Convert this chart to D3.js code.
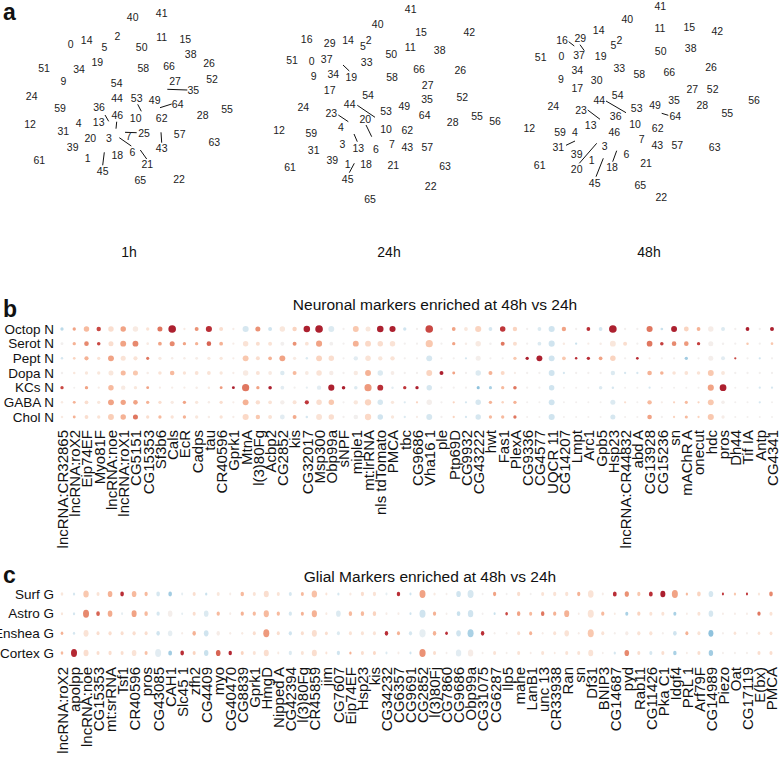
<!DOCTYPE html>
<html><head><meta charset="utf-8">
<script src="https://cdn.jsdelivr.net/npm/d3@7"></script>
<style>body{margin:0;background:#fff}svg{display:block}text{font-family:"Liberation Sans",Arial,sans-serif;fill:#111}</style>
</head><body><svg id="chart" width="780" height="762"></svg>
<script>
// ---------------- Panel a data (cluster label positions in layout units) ----------------
const aTitles = ["1h", "24h", "48h"];
const a1Labels = [["40",132.7,17.3],["41",161.7,13.3],["2",117.3,36.7],["11",161.7,37.3],["15",185.3,39],["0",70.7,44],["14",86.7,40.7],["5",104.3,47.7],["50",141.7,47.3],["38",190.7,54],["26",209,63.3],["51",44,68.3],["34",79,69],["19",97.3,62.7],["58",143.3,68.3],["66",169,66.7],["52",212,79],["9",63.3,81.7],["54",116.7,83.3],["27",175,81.7],["35",193.3,90.7],["24",31.7,96],["44",117,98.7],["53",136.7,98.7],["49",154.7,100],["64",177.7,104.3],["55",227,109.3],["59",60,108.7],["36",99,107.3],["28",202.7,115],["46",117.3,115],["10",135.7,118],["62",161.7,118.3],["12",30,124.3],["4",78.7,123.3],["13",98.7,122.7],["31",63.3,131.7],["7",128.7,136.7],["25",144,133.3],["57",179.7,134],["63",214.3,142],["20",90.3,138.3],["3",109,138],["39",72.7,147],["43",161.7,148.7],["6",132.3,152.7],["18",117.3,155.3],["1",87.7,158.7],["61",39.3,160.3],["21",147.3,164],["45",102.7,171.3],["65",140.3,180.7],["22",179,179]];
const a1Links = [[167.3,89.3,187.3,90],[137.7,104.3,141.3,111.3],[160,107.7,171.7,104],[105,115,108.7,121.3],[116.7,121.7,116,128.7],[125,132.3,136.7,132.7],[119.3,137.7,131.3,146],[161,132.3,161.7,142.7],[140.3,150,146.7,159],[104.3,152.3,102.7,165.3]];
const a2Labels = [["41",150.7,9.3],["40",117.7,24.3],["15",161,32],["42",209.3,32.3],["16",46.7,39],["29",69.7,43.3],["14",88,40.7],["5",103,46.7],["2",108.7,40],["11",150.3,47],["38",179.7,50.7],["50",131.3,54],["51",32,60],["0",51.7,61],["37",66.7,59.3],["33",106.7,62],["66",159,69],["26",200.3,70.7],["9",53.7,76],["34",73.3,74],["19",91.3,77.3],["58",132,77.3],["27",167.7,85],["17",69.7,90],["54",108,95.3],["52",202.3,97.3],["35",167,99.7],["24",43.3,107.3],["44",89.7,104.3],["53",126,111],["49",144.3,106.7],["64",164.7,115.7],["23",71.3,113.3],["20",105.3,119],["28",192.7,122],["55",217,116.7],["56",235,121],["12",19,130],["4",81,127.7],["10",126,129],["62",147.3,130.7],["59",51.3,133.3],["3",82.3,144],["13",98.3,148],["6",116,149],["7",132,144],["43",147.3,147.7],["57",167.3,147.7],["31",53.7,150.7],["39",72.3,160.7],["1",87.7,164],["18",106,164.3],["21",133.3,165],["63",185,166.7],["61",30,167.3],["45",87.7,179],["22",170.7,186],["65",110,199]];
const a2Links = [[83,65,89.3,71],[97.3,105.3,115,117.3],[78.3,115,88.3,121.7],[106,125,111.7,136.7],[94,134,97.3,141.7],[94.3,163.3,89.3,172.7]];
const a3Labels = [["41",140.3,6],["40",107.3,19.3],["14",78.7,30],["11",140,28.7],["15",169.3,27.7],["42",197.3,31.3],["16",42,40],["29",60.3,38.3],["5",93.3,45.3],["2",99.3,40],["50",140.7,51.3],["38",170.7,48.3],["51",20.7,57.7],["0",41.3,56.7],["37",59,55],["19",80.7,56.7],["33",99.3,68.7],["58",119.3,74],["66",149.3,72.3],["26",191,67],["34",57.3,70.7],["9",41,79.7],["30",76.7,80.3],["17",57.3,88],["54",97.7,95],["27",172.3,89.3],["52",192.7,89.3],["56",234,100.3],["35",154,100],["28",182.3,105],["24",33.3,106.7],["44",79.3,100.7],["53",116.7,108.7],["49",135,105],["64",155.3,116.3],["55",207.3,113.7],["23",61,110],["36",95.7,116.7],["13",70.7,125.3],["10",115,124.3],["62",137.7,128],["12",9.3,128],["59",40,132],["4",55,132.3],["46",94.3,132],["7",121.7,139.3],["43",137.3,145.7],["57",157.3,145.7],["63",194.7,147],["31",38.3,147],["3",84.7,146.7],["39",56.7,154],["6",106.3,154],["1",71.7,160],["61",19.7,165],["21",126,163],["20",56.7,169],["18",92,167.3],["45",74.7,183.3],["65",120.3,185.7],["22",141.3,197.3]];
const a3Links = [[48.7,41.7,54.3,46],[60,44.7,64.3,50.7],[86,101,106,112.7],[67.7,110,80,119.3],[141.7,113.3,148.3,115.3],[46,145.3,55,141],[59.3,163.3,76.7,143.3],[76,176.7,83.3,158.3],[92.7,161.7,96.7,150.7]];

// ---------------- Panel b data ----------------
const neuronTitle = "Neuronal markers enriched at 48h vs 24h";
const neuronRows = ["Octop N","Serot N","Pept N","Dopa N","KCs N","GABA N","Chol N"];
const neuronGenes = ["lncRNA:CR32865","lncRNA:roX2","Eip74EF","Myo81F","lncRNA:noe","lncRNA:roX1","CG5151","CG15353","Sf3b6","Cals","EcR","Cadps","tau","CR40596","Gprk1","MtnA","l(3)80Fg","Acbp2","CG2852","kis","CG32017","Msp300","Obp99a","sNPF","miple1","mt:lrRNA","nls tdTomato","PMCA","tbc","CG9686","Vha16 1","ple","Ptp69D","CG9932","CG43222","hwt","Fas1","PlexA","CG9336","CG4577","UQCR 11","CG14207","Lmpt","Arc1","Gpb5","Hsp23","lncRNA:CR44832","abd A","CG13928","CG15236","sn","mAChR A","onecut","hdc","pros","Dh44","Tif IA","Antp","CG4341"];
// scaled enrichment (colour)
const neuronColor = [
 [-1,1.5,1.2,2.5,0.6,1.5,0.3,0.5,2,3, 0.3,1.7,2.8,0.6,0.2,-0.6,1.7,-0.7,0.4,0.8, 3,3,-0.5,0,1,0.4,3,3,-0.7,0, 2.5,0,1.5,0.4,0.8,-0.6,2.7,0.8,0,-0.5, -0.7,1.5,0,2.8,-0.6,3,0,0,2,-0.8, 3,0.8,1.3,0.2,-0.5,0,3,0,3],
 [0,1.3,1.8,2.5,0.6,1.5,1.8,0.3,1.5,1.8, 1.5,1.3,2.2,1.3,0.2,0.5,0.6,0.5,0,1.7, 0.5,1.5,0,0,1.3,0.7,0.6,0.5,0,0, 1,0,1.5,0.2,0.3,0,2,0.6,0,-0.5, -0.7,0.3,-0.8,0.2,0.2,0.4,0.6,0,2,2.6, 1.8,1.6,2.6,0.1,0,0,1,0,1],
 [-0.6,0.8,1.3,0.5,1.5,0.5,0.5,2,0.3,0.2, 0.2,0.2,0.3,0.4,0.2,1,0.6,1.3,1.5,0.3, -0.5,0.8,0.6,0,-0.4,0.5,0.4,0.5,0,0, -0.6,0,0,-0.6,0.1,0,0,1,3,3, -0.7,1,2.8,2.8,1.5,0.8,0,2.8,0.2,0, 0,-1.3,0,0.1,-0.4,2.5,0,-0.7,0],
 [0,0.4,0.4,0.4,0.4,1.2,1,0.2,0.5,1.2, 0.5,0.5,0.5,0.4,0.2,0.3,0.5,0.3,-0.5,1.2, 0.3,0.5,0.2,0,0.3,1.3,-0.5,0.2,0,0, 0.8,3,1.5,0,-0.5,1.3,0.7,0.2,0,0, -0.7,-0.6,0,0,0,-0.5,-0.6,-0.6,1.3,1.3, 0.5,0.5,0.5,1,0.4,0,0,0,0],
 [2.5,0,1.5,0.2,1.2,0.3,0.4,1.5,0.2,0.2, 0.2,0.2,0.3,1.6,3,2,1.5,3,-0.4,0, -0.3,-0.4,3,3,-0.5,1.6,2.8,-0.4,2.7,3, -0.6,0,0,0,-1.5,-1.2,1.2,2,0,0, -0.7,0,0,0,-0.5,-0.6,0,0,-0.6,0, 0,0,0,1.5,3,0,0,-0.6,-0.6],
 [0.3,1.3,0.6,0.4,1.5,1.5,1.5,1.3,0.6,0.3, 1.5,0.4,0.2,0.6,0.2,1.3,0.6,0.5,0.1,0.5, 2.7,0.6,1,0,0.4,0.8,-0.6,0.4,-0.5,0.8, 0.1,0,0.8,-0.6,-0.6,1.3,0.8,1.3,0,0, -0.7,0,0,0,0,-0.5,0.6,0,1.2,0.2, 0.8,1.2,0.8,1,0.1,0,0,-0.6,0],
 [0.3,1.3,0.6,0.5,0.9,1.3,2,0.6,1.2,0.5, 1.3,0.4,0.2,0.5,0.2,0.7,1,0.5,-0.4,1.4, -0.6,0.5,0.6,0,0,0.7,-0.7,0.4,-0.5,0.2, -0.6,0,0.8,-0.6,-0.6,1.2,1.2,2,0,0, -0.7,0,0,0,0,-0.6,0,0,1.5,0, 0.8,1.2,0.8,1,0.2,0,0,0,0]
];
// fraction expressing (size)
const neuronSize = [
 [1,1,2,1.5,2,2,2,1,1.8,3, 0.5,1.3,2.3,1.3,0.5,2.3,1.8,1.3,2,1.5, 2.5,3,2.2,0.5,2.2,1.8,2.5,2.3,1,0.5, 3,0.5,1.2,1.2,2.3,1.2,2,1.5,0.5,1.2, 2.3,1.5,0.5,1.2,1.2,3,0.5,0.5,2.3,0.7, 2.2,1.7,1.2,2,1.3,0.5,1.2,0.5,1.3],
 [0.8,1,1.6,1.1,1.8,2.2,2.2,0.7,1.2,1.8, 1,1,1.6,1.2,0.5,2,1.3,1.3,1.3,1.3, 1.2,2.3,1.2,0.5,2.2,2.2,2,2,0.5,0.5, 2.8,0.5,1,0.6,2,0.6,1.3,1.3,0.5,1.2, 2.3,0.6,0.5,0.5,0.6,2.2,1.3,0.5,2.1,1.1, 1.6,1.6,1,1.8,0.6,0.5,0.6,0.5,0.7],
 [0.6,0.7,1.4,1,2.2,1.8,1.4,0.9,1,0.6, 0.6,0.8,1,1,0.5,2.2,1.3,1.2,2.2,1, 0.6,2.2,2,0.5,1.5,2,1.5,1.5,0.5,0.5, 2.2,0.5,0.5,0.5,1.8,0.5,0.5,1,1,2.2, 2.2,1.2,0.6,1,1.2,2,0.5,0.7,0.5,0.5, 0.5,1,0.5,1.8,1.3,0.5,0.5,0.5,0.5],
 [0.6,0.6,1,1,1.8,1.8,1.8,0.6,1.1,1.6, 1,1.2,1.2,1,0.5,2,1.3,1.2,1.5,1.3, 1.2,2,1.5,0.5,1.5,2.2,2,1.2,0.5,0.5, 2.2,1.3,0.8,0.5,2,1.3,1.3,0.5,0.5,0.5, 2.2,0.5,0.5,0.5,0.5,1.5,0.5,0.5,1.6,1.1, 1.1,1.2,1.1,2.2,1.2,0.5,0.5,0.5,0.5],
 [1,0.4,1,0.5,2,1.5,1,0.8,0.5,0.5, 0.5,0.6,0.6,0.8,0.8,2.8,1,1.1,1.2,0.5, 0.5,1.5,2.3,1.1,1.1,2.8,2.2,0.6,1,1, 2,0.5,0.5,0.5,0.9,0.9,1,1.1,0.5,0.5, 2,0.4,0.4,0.4,1.1,0.6,0.4,0.4,0.5,0.4, 0.4,0.4,0.4,2.3,2.6,0.4,0.4,0.5,0.5],
 [0.6,0.8,1.2,1,2.2,1.9,1.6,1,1,1, 1,1,0.6,1,0.5,2.2,1.5,1.2,1.5,1.3, 1.4,2,2,0.5,1.5,2.4,2,1,0.5,0.5, 2,0.5,0.5,0.5,2,1,0.6,1,0.4,0.4, 2.2,0.4,0.4,0.4,0.4,1.8,0.5,0.4,1.5,0.5, 0.5,0.9,0.5,2.2,1.1,0.4,0.4,0.5,0.4],
 [0.6,0.8,1.2,1,2.2,2,1.8,1,1,1, 1,1,0.6,1,0.5,2.3,1.5,1.3,1.7,1.3, 0.6,2.2,2,0.5,1.6,2.4,2,1,0.5,0.5, 2.2,0.5,0.5,0.5,2,1,1,1,0.4,0.4, 2.3,0.4,0.4,0.4,0.4,1.8,0.4,0.4,1.6,0.5, 0.5,0.9,0.5,2.3,1,0.4,0.4,0.4,0.4]
];

// ---------------- Panel c data ----------------
const glialTitle = "Glial Markers enriched at 48h vs 24h";
const glialRows = ["Surf G","Astro G","Enshea G","Cortex G"];
const glialGenes = ["lncRNA:roX2","apolpp","lncRNA:noe","CG15353","mt:srRNA","Tsf1","CR40596","pros","CG43085","CAH1","Slc45 1","zfh2","CG4409","myo","CG40470","CG8839","Gprk1","HmgD","Nipped A","CG42394","l(3)80Fg","CR45859","jim","CG7607","Eip74EF","Hsp23","kis","CG34232","CG6357","CG9691","CG2852","l(3)80Fj","CG7860","CG9686","Obp99a","CG31075","CG6287","Ilp5","mahe","LanB1","unc 13","CR33938","Ran","sn","Df31","BNIP3","CG14687","pyd","Rab11","CG11426","Pka C1","Idgf4","PRL 1","Arf79F","CG14989","Piezo","Oat","CG17119","E(bx)","PMCA"];
const glialColor = [
 [0.4,-0.6,1,0.5,1.3,2.8,1.2,1.2,-0.6,-1.3, -0.3,0.6,-0.8,0.4,0.2,1.2,0.5,0.6,0.5,-0.6, 1.2,1.1,0.5,-0.6,0.3,0.6,0.5,-0.3,2.8,-0.7, 1.5,0.3,0.1,-0.7,-0.6,0,1.5,0,0.6,0, 0.5,0.5,0.5,1.3,0.5,0.2,2.8,1.7,1,2.8, 3,1.5,1.2,0.8,-0.6,2.7,1,2.7,0.4,1.8],
 [0.4,-0.6,1.8,2.2,1.4,-0.3,1.5,1.2,-0.6,0.1, -0.3,0.6,-0.5,1.2,0.2,1.3,1.2,1.2,1.2,-0.6, 1.3,1.3,0.3,-0.5,1.2,1.2,0.8,0.2,0.2,-0.7, -0.7,1.3,0.1,-0.8,-0.7,0,-0.8,2.5,1.5,1.2, 2,1.3,1.3,0.2,0.5,1.2,0.3,-1.2,0.8,0.5, 0.5,-1.2,0.2,0.5,-0.6,0.2,0.2,0.2,2,0.5],
 [1.3,-0.6,0.5,0.6,0.6,0.6,0.6,0.6,-0.7,-0.3, 0.2,1.3,-0.7,0.2,0.2,0.3,0.6,1.6,0.6,-0.7, 0.6,0.6,0.6,-0.5,0.5,0.5,0.5,2.8,1.3,-0.6, -0.3,1.3,2.8,-0.7,-1.2,2.8,0.1,0.1,0.5,1.3, 0.2,0.5,0.5,0.2,1,0.5,0.1,0.2,0.5,0.5, 0.1,-0.7,1.3,0.5,-1.5,0.1,0.5,0.1,0.5,0.5],
 [1.2,2.9,0.6,0.6,0.6,0.6,0.5,1.1,-0.4,-1.3, 2.8,0.8,-0.8,2.2,2.9,0.8,0.5,0.6,0.3,-0.5, 0.5,0.6,0.5,-0.7,1.3,0.6,0.7,-0.5,0.2,-0.7, 1.7,0.6,0.1,-0.4,0.2,0.1,0.5,0.1,0.5,0.2, 0.5,0.3,0.5,0.5,0.5,0.1,-0.6,1.8,0.6,-0.6, 0.6,-1.2,0.2,0.6,-1.3,0.1,0.1,0.1,0.6,0.6]
];
const glialSize = [
 [0.8,0.6,2.2,1,1.8,1.3,1.8,1.1,1.3,1.3, 0.5,1,0.6,1,0.5,1.2,1,2,1,1, 1,2.2,0.5,0.6,0.6,1.1,1.1,0.5,1.2,0.5, 2.5,0.6,0.4,1.8,2.5,0.4,1.1,0.4,1.1,0.4, 1,1.1,1.1,1.1,2.3,0.5,1.4,1.6,1.1,1.4, 2,2.5,0.6,1.3,1.8,0.5,0.6,0.5,0.6,1.3],
 [0.6,0.6,2.5,1.3,1.8,0.5,2,1.2,1.1,1.8, 0.4,1,1.8,1.1,0.5,1.1,1.1,2.1,1.1,1.1, 1,2.1,0.5,1.8,1.2,1.2,1.2,0.5,0.5,0.5, 2.5,1.1,0.4,1.3,2.2,0.4,0.5,0.8,1.2,1, 1.2,1.1,2,0.4,2.5,1.1,0.4,1,1.1,1, 1,1,0.4,1,1.8,0.4,0.4,0.4,1.1,1],
 [0.8,0.6,2,1,1.1,1,1.1,1,1.2,1.7, 0.4,1.2,1.8,1.2,0.5,0.5,1,2.5,1,1.1, 1,2,0.9,1,1,1,1,1.2,1,1.1, 2.6,1.2,0.8,1.8,2.5,1.2,0.4,0.4,1,1, 0.4,1,1.8,0.4,2.5,1,0.4,1.1,1.1,1.1, 0.4,1.3,1,1,2,0.4,0.8,0.4,0.8,0.9],
 [0.8,2.5,2,1,1.1,1,1.8,1,2.5,1.4, 1.3,1,1.7,1.8,1.2,1,1,2,0.5,1.1, 1,2,0.5,1.1,0.6,1,1,0.5,0.5,0.5, 2.6,1,0.4,2.2,2.2,0.4,1,0.4,1,0.4, 1,0.4,1,1,2,0.4,0.6,1.8,1,1, 1,1.2,0.4,1,1.7,0.4,0.4,0.4,1,1]
];

// ---------------- Drawing ----------------
const svg = d3.select("#chart");
svg.append("rect").attr("width",780).attr("height",762).attr("fill","#fff");
const FONT = '"Liberation Sans", Arial, sans-serif';

function letter(t, x, y) {
  svg.append("text").attr("x", x).attr("y", y).text(t)
    .style("font-size", "23px").style("font-weight", "bold");
}

// Panel a
letter("a", 3, 20);
const aData = [[a1Labels, a1Links], [a2Labels, a2Links], [a3Labels, a3Links]];
aData.forEach(([labels, links], k) => {
  const ox = k * 260;
  const xA = d3.scaleLinear().domain([0, 260]).range([ox, ox + 260]);
  const yA = d3.scaleLinear().domain([0, 200]).range([0, 200]);
  const g = svg.append("g");
  g.selectAll("line").data(links).join("line")
    .attr("x1", d => xA(d[0])).attr("y1", d => yA(d[1]))
    .attr("x2", d => xA(d[2])).attr("y2", d => yA(d[3]))
    .attr("stroke", "#111").attr("stroke-width", 1);
  g.selectAll("text").data(labels).join("text")
    .attr("x", d => xA(d[1])).attr("y", d => yA(d[2]))
    .attr("dy", "0.36em").attr("text-anchor", "middle")
    .style("font-size", "10.5px").style("fill", "#222")
    .text(d => d[0]);
  g.append("text").attr("x", xA(129)).attr("y", yA(257))
    .attr("text-anchor", "middle").style("font-size", "14px")
    .text(aTitles[k]);
});

const color = d3.scaleDiverging(d3.interpolateRdBu).domain([3.75, 0, -3.75]);
const rad = d3.scaleLinear().domain([0, 3]).range([0.6, 3.8]);

function dotPanel(opts) {
  const {rows, genes, colorVals, sizeVals, x0, x1, yTop, yBot, labelTop, title, titleX, titleY, ell} = opts;
  const x = d3.scalePoint().domain(genes).range([x0, x1]);
  const y = d3.scalePoint().domain(rows).range([yTop, yBot]);
  const cells = [];
  rows.forEach((r, i) => genes.forEach((gname, j) => cells.push({r, g: gname, c: colorVals[i][j], s: sizeVals[i][j]})));
  const g = svg.append("g");
  g.selectAll("ellipse").data(cells).join("ellipse")
    .attr("cx", d => x(d.g)).attr("cy", d => y(d.r))
    .attr("rx", d => rad(d.s) * ell[0]).attr("ry", d => rad(d.s) * ell[1])
    .attr("fill", d => color(d.c));
  // row labels
  const ya = svg.append("g").attr("transform", `translate(${x0 - 8},0)`)
    .call(d3.axisLeft(y).tickSize(0).tickPadding(0));
  ya.select(".domain").remove();
  ya.selectAll("text").style("font-size", "13.5px").style("font-family", FONT).attr("fill", "#111");
  // column labels
  const xa = svg.append("g").attr("transform", `translate(0,${labelTop})`)
    .call(d3.axisBottom(x).tickSize(0).tickPadding(0));
  xa.select(".domain").remove();
  xa.selectAll("text")
    .attr("transform", "rotate(-90)").attr("x", 0).attr("y", 0).attr("dy", "0.36em")
    .attr("text-anchor", "end").attr("fill", "#111")
    .style("font-size", "15px").style("font-family", FONT);
  svg.append("text").attr("x", titleX).attr("y", titleY).attr("text-anchor", "middle")
    .style("font-size", "15.5px").text(title);
}

// Panel b
letter("b", 3, 317);
dotPanel({rows: neuronRows, genes: neuronGenes, colorVals: neuronColor, sizeVals: neuronSize,
  x0: 62, x1: 772, yTop: 329, yBot: 417, labelTop: 430,
  title: neuronTitle, titleX: 435, titleY: 310, ell: [1, 1]});

// Panel c
letter("c", 3, 583);
dotPanel({rows: glialRows, genes: glialGenes, colorVals: glialColor, sizeVals: glialSize,
  x0: 62, x1: 771, yTop: 594, yBot: 653, labelTop: 667,
  title: glialTitle, titleX: 430, titleY: 582, ell: [0.92, 1.22]});
</script></body></html>
